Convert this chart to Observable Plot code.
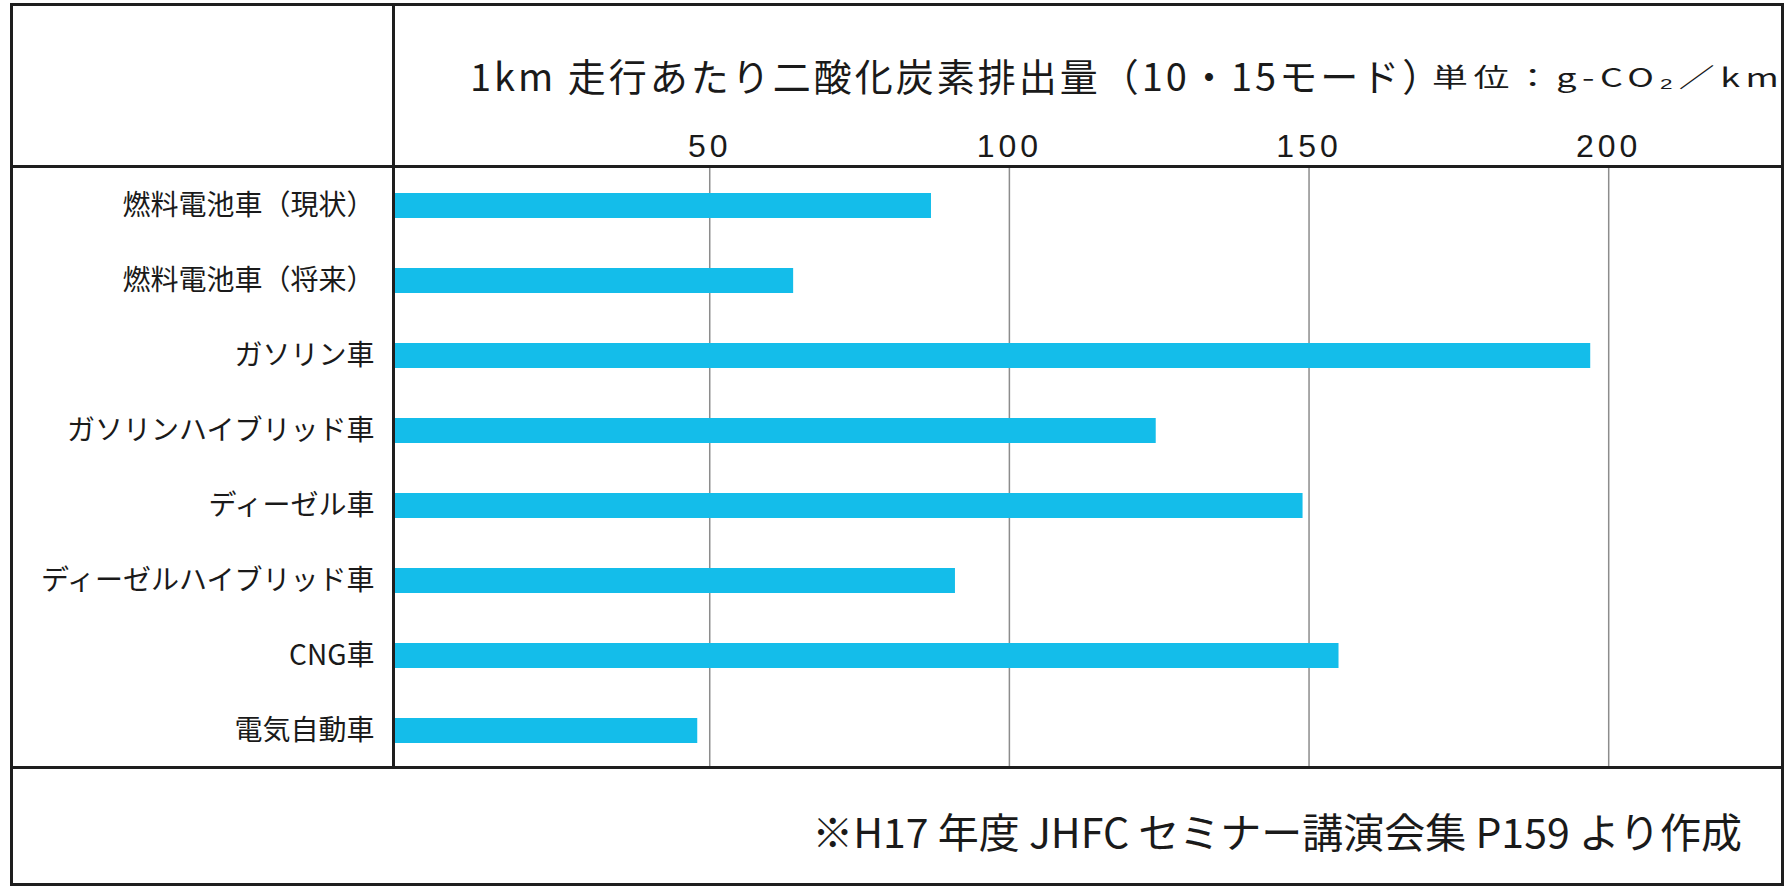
<!DOCTYPE html>
<html>
<head>
<meta charset="utf-8">
<script src="https://cdn.jsdelivr.net/npm/d3@7"></script>
<script src="https://cdn.jsdelivr.net/npm/@observablehq/plot@0.6"></script>
<style>
  html, body { margin: 0; padding: 0; background: #fff; }
  #wrap { position: relative; width: 1790px; height: 887px; overflow: hidden;
          font-family: "Noto Sans CJK JP", sans-serif; color: #1a1a1a; background: #fff; }
  #chart { position: absolute; left: 0; top: 0; }
  .line { position: absolute; background: #1e1e1e; }
  .txt { position: absolute; white-space: nowrap; line-height: 1; }
  #title { left: 470px; top: 56px; font-size: 38px; letter-spacing: 3px; }
  #unit { left: 1432px; top: 63px; font-size: 26px; letter-spacing: 4px;
          transform: scaleX(1.38); transform-origin: left center; }
  #source { right: 48px; top: 810px; font-size: 41px; }
  #chart g[aria-label="x-axis tick label"] text { letter-spacing: 4px; }
</style>
</head>
<body>
<div id="wrap">
  <div id="chart"></div>
  <div class="txt" id="title"></div>
  <div class="txt" id="unit"></div>
  <div class="txt" id="source"></div>
  <div class="line" style="left:10px;top:3px;width:1774px;height:3px"></div>
  <div class="line" style="left:10px;top:883px;width:1774px;height:3px"></div>
  <div class="line" style="left:10px;top:3px;width:3px;height:883px"></div>
  <div class="line" style="left:1781px;top:3px;width:3px;height:883px"></div>
  <div class="line" style="left:392px;top:3px;width:3px;height:766px"></div>
  <div class="line" style="left:10px;top:165px;width:1774px;height:3px"></div>
  <div class="line" style="left:10px;top:766px;width:1774px;height:3px"></div>
</div>
<script>
const titleText = "1km 走行あたり二酸化炭素排出量（10・15モード）";
const unitText = "単位：g-CO₂／km";
const sourceText = "※H17 年度 JHFC セミナー講演会集 P159 より作成";

const categories = [
  "燃料電池車（現状）",
  "燃料電池車（将来）",
  "ガソリン車",
  "ガソリンハイブリッド車",
  "ディーゼル車",
  "ディーゼルハイブリッド車",
  "CNG車",
  "電気自動車"
];
const values = [87, 64, 197, 124.5, 149, 91, 155, 48];
const xTicks = [50, 100, 150, 200];
const xDomain = [-2.6, 229];

const data = categories.map((c, i) => ({category: c, value: values[i]}));

document.getElementById("title").textContent = titleText;
document.getElementById("unit").textContent = unitText;
document.getElementById("source").textContent = sourceText;

const chart = Plot.plot({
  width: 1790,
  height: 887,
  marginLeft: 394,
  marginRight: 8,
  marginTop: 167,
  marginBottom: 119,
  style: {background: "transparent", fontFamily: "'Noto Sans CJK JP', sans-serif", color: "#1a1a1a"},
  x: {domain: xDomain, ticks: xTicks},
  y: {domain: categories, paddingInner: 0.667, paddingOuter: 0.333},
  marks: [
    Plot.ruleX(xTicks, {stroke: "#8c8c8c", strokeWidth: 1.5}),
    Plot.barX(data, {x1: () => xDomain[0], x2: "value", y: "category", fill: "#14bdea"}),
    Plot.axisX({anchor: "top", ticks: xTicks, tickSize: 0, tickPadding: 11, fontSize: 32,
                fontFamily: "'Liberation Sans', Arial, sans-serif", label: null}),
    Plot.axisY({tickSize: 0, tickPadding: 20, fontSize: 28, label: null})
  ]
});
document.getElementById("chart").appendChild(chart);
</script>
</body>
</html>
